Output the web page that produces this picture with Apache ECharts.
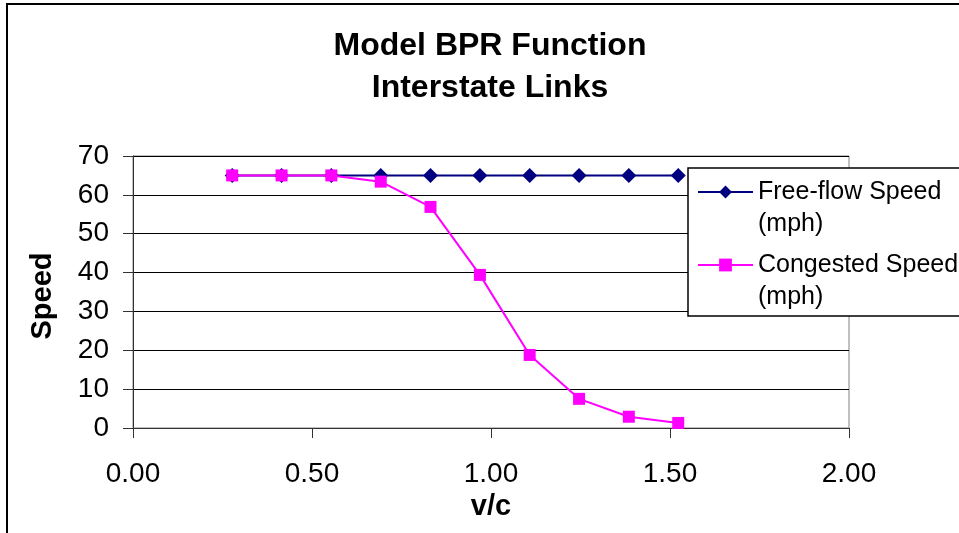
<!DOCTYPE html>
<html>
<head>
<meta charset="utf-8">
<script src="https://cdn.jsdelivr.net/npm/echarts@6/dist/echarts.min.js"></script>
<style>html,body{margin:0;padding:0;background:#fff}#c{width:959px;height:533px}</style>
</head>
<body>
<div id="c"></div>
<script>
const vc = [0.277, 0.415, 0.554, 0.692, 0.831, 0.969, 1.108, 1.246, 1.385, 1.523];
const freeFlow = [65, 65, 65, 65, 65, 65, 65, 65, 65, 65];
const congested = [65, 65, 65, 63.4, 56.9, 39.4, 18.8, 7.5, 2.9, 1.3];
const seriesNames = ['Free-flow Speed\n(mph)', 'Congested Speed\n(mph)'];
const titleText = 'Model BPR Function\nInterstate Links';
const xName = 'v/c';
const yName = 'Speed';

const FONT = '"Liberation Sans", Arial, sans-serif';
const chart = echarts.init(document.getElementById('c'), null, {renderer: 'canvas'});
chart.setOption({
  backgroundColor: '#fff',
  animation: false,
  title: {
    text: titleText,
    left: 485,
    textAlign: 'center',
    top: 20,
    textStyle: {fontFamily: FONT, fontSize: 32, fontWeight: 'bold', color: '#000', lineHeight: 42}
  },
  grid: {left: 133, right: 110, top: 156, bottom: 105, show: true, borderColor: '#808080', borderWidth: 1},
  xAxis: {
    type: 'value', min: 0, max: 2, interval: 0.5,
    name: xName, nameLocation: 'middle', nameGap: 62,
    nameTextStyle: {fontFamily: FONT, fontSize: 29, fontWeight: 'bold', color: '#000'},
    axisLine: {show: true, lineStyle: {color: '#333', width: 1}},
    axisTick: {show: true, length: 10, lineStyle: {color: '#333'}},
    axisLabel: {fontFamily: FONT, fontSize: 28, color: '#000', margin: 32, formatter: v => v.toFixed(2)},
    splitLine: {show: false}
  },
  yAxis: {
    type: 'value', min: 0, max: 70, interval: 10,
    name: yName, nameLocation: 'middle', nameGap: 76, nameRotate: 90,
    nameTextStyle: {fontFamily: FONT, fontSize: 29, fontWeight: 'bold', color: '#000', padding: [0, 8, 0, 0]},
    axisLine: {show: true, lineStyle: {color: '#333', width: 1}},
    axisTick: {show: true, length: 10, lineStyle: {color: '#333'}},
    axisLabel: {fontFamily: FONT, fontSize: 28, color: '#000', margin: 24},
    splitLine: {show: true, lineStyle: {color: '#000', width: 1}}
  },
  legend: {
    orient: 'vertical',
    left: 697, top: 144,
    padding: 0,
    itemGap: -23,
    itemWidth: 55, itemHeight: 16,
    z: 20,
    lineStyle: {width: 2},
    formatter: n => '\n' + n,
    textStyle: {fontFamily: FONT, fontSize: 25, color: '#000', lineHeight: 32},
    data: seriesNames
  },
  graphic: [
    {type: 'rect', z: 10, shape: {x: 688, y: 168, width: 400, height: 148},
     style: {fill: '#fff', stroke: '#000', lineWidth: 1.5}},
    {type: 'rect', z: 0, shape: {x: 7, y: 4, width: 1100, height: 700},
     style: {fill: 'none', stroke: '#000', lineWidth: 2}}
  ],
  series: [
    {
      name: seriesNames[0], type: 'line',
      data: vc.map((x, i) => [x, freeFlow[i]]),
      symbol: 'diamond', symbolSize: 15,
      itemStyle: {color: '#000080'},
      lineStyle: {color: '#000080', width: 2},
      z: 2
    },
    {
      name: seriesNames[1], type: 'line',
      data: vc.map((x, i) => [x, congested[i]]),
      symbol: 'rect', symbolSize: 12,
      itemStyle: {color: '#ff00ff'},
      lineStyle: {color: '#ff00ff', width: 2},
      z: 3
    }
  ]
});
</script>
</body>
</html>
